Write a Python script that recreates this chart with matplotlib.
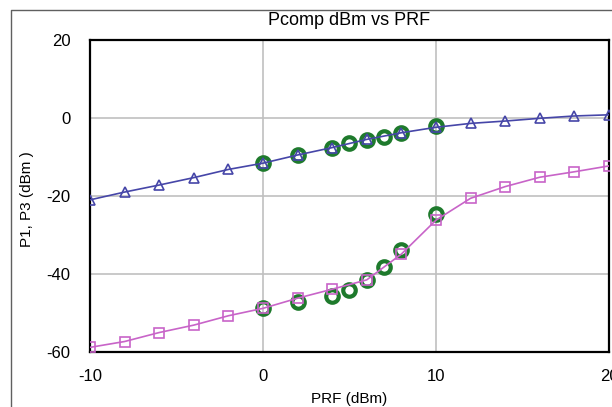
import matplotlib
matplotlib.use("Agg")
import matplotlib.pyplot as plt
from matplotlib.lines import Line2D

plt.rcParams['font.family'] = ['Liberation Sans', 'DejaVu Sans']
plt.rcParams['axes.unicode_minus'] = False

# simulated sweep (markers every 2 dBm)
prf_sim = [-10, -8, -6, -4, -2, 0, 2, 4, 6, 8, 10, 12, 14, 16, 18, 20]
p1_sim = [-21.0, -19.0, -17.2, -15.3, -13.2, -11.6, -9.5, -7.6, -5.5, -3.8,
          -2.4, -1.4, -0.8, -0.1, 0.5, 0.8]
p3_sim = [-58.8, -57.3, -55.0, -53.1, -50.7, -48.8, -46.2, -43.9, -41.5, -34.9,
          -26.2, -20.6, -17.6, -15.2, -13.8, -12.3]

# measured points
prf_meas = [0, 2, 4, 5, 6, 7, 8, 10]
p1_meas = [-11.6, -9.6, -7.6, -6.5, -5.6, -4.8, -3.9, -2.1]
p3_meas = [-48.8, -47.3, -45.6, -44.1, -41.5, -38.1, -33.8, -24.6]

blue = "#4646a8"
pink = "#c864c8"
green = "#1e7a2c"

fig = plt.figure(figsize=(6.12, 4.07), dpi=100)
ax = fig.add_axes([0.147, 0.135, 0.848, 0.767])

ax.plot(prf_meas, p1_meas, "o", ms=9, mfc="none", mec=green, mew=3, zorder=3)
ax.plot(prf_meas, p3_meas, "o", ms=9, mfc="none", mec=green, mew=3, zorder=3)
ax.plot(prf_sim, p1_sim, "-^", color=blue, lw=1.2, ms=7, mfc="none", mew=1.2, zorder=4)
ax.plot(prf_sim, p3_sim, "-s", color=pink, lw=1.2, ms=7, mfc="none", mew=1.2, zorder=4)

ax.set_xlim(-10, 20)
ax.set_ylim(-60, 20)
ax.set_xticks([-10, 0, 10, 20])
ax.set_yticks([-60, -40, -20, 0, 20])
ax.grid(True, color="#c0c0c0", lw=1.2)
ax.set_axisbelow(True)
ax.tick_params(length=0, labelsize=12, pad=14)
ax.tick_params(axis="x", pad=12)
for s in ax.spines.values():
    s.set_linewidth(1.6)
    s.set_color("black")

ax.set_title("Pcomp dBm vs PRF", fontsize=13, pad=11)
ax.set_xlabel("PRF (dBm)", fontsize=11, labelpad=6)
ax.set_ylabel("P1, P3 (dBm )", fontsize=11)
ax.yaxis.set_label_coords(-0.108, 0.49)

# outer frame of the original plot window
fig.add_artist(Line2D([11 / 612, 11 / 612, 1.0], [0.0, 1 - 10 / 407, 1 - 10 / 407],
                      transform=fig.transFigure, color="#606060", lw=1))

fig.savefig("out.png", dpi=100)
